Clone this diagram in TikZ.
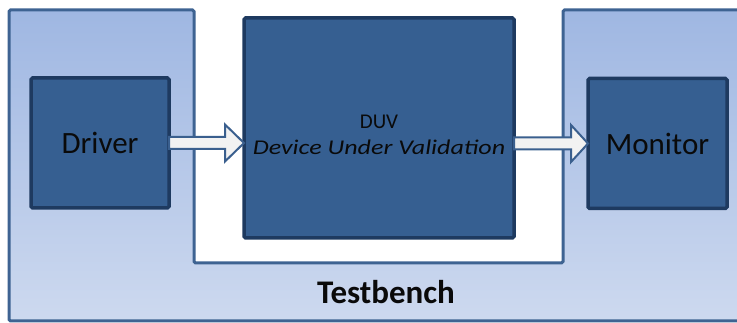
\documentclass[tikz,border=0pt]{standalone}
\usepackage{fontspec}
\setmainfont{Carlito}
\usetikzlibrary{calc}

\definecolor{benchtop}{HTML}{9FB7E2}
\definecolor{benchbot}{HTML}{CDD9EF}
\definecolor{benchline}{HTML}{3E6392}
\definecolor{boxfill}{HTML}{365F91}
\definecolor{boxline}{HTML}{1E3A60}
\definecolor{arrowfill}{HTML}{F2F2F2}
\definecolor{arrowline}{HTML}{3A5F8E}
\definecolor{ink}{HTML}{0A0A0A}

\tikzset{
  unitbox/.style={draw=boxline, line width=3.5pt, fill=boxfill,
    rounded corners=1.5pt, inner sep=0pt, outer sep=0pt, text=ink},
  flowarrow/.style={draw=arrowline, line width=2pt, fill=arrowfill,
    line join=miter},
  bench/.style={draw=benchline, line width=3pt, rounded corners=1.5pt,
    top color=benchtop, bottom color=benchbot},
  bigtext/.style={font=\fontsize{31}{37}\selectfont},
}

\begin{document}
\begin{tikzpicture}[x=1pt, y=-1pt]
  \useasboundingbox (0,0) rectangle (737,323);

  % testbench frame with the open slot for the device under validation
  \path[bench] (9,10) -- (194,10) -- (194,263) -- (563,263) -- (563,10)
    -- (745,10) -- (745,321) -- (9,321) -- cycle;
  \node[text=ink, font=\bfseries\fontsize{33}{39}\selectfont] (tb) at (386,292) {Testbench};

  % blocks
  \node[unitbox, bigtext, minimum width=138pt, minimum height=130pt] (drv) at (100,143) {Driver};
  \node[unitbox, minimum width=270pt, minimum height=220pt] (duv) at (379,128) {};
  \node[unitbox, bigtext, minimum width=139pt, minimum height=130pt] (mon) at (657.5,143.5) {Monitor};
  \node[text=ink, align=center, font=\fontsize{21}{26}\selectfont, inner sep=0pt]
    (duvtext) at ($(duv.center)+(0,7)$) {DUV\\\scalebox{1.24}[1]{\textit{Device Under Validation}}};

  % block arrows between the units
  \draw[flowarrow] let \p1=(drv.east), \p2=(duv.west) in
    (\x1,\y1+6pt) -- (\x2-19pt,\y1+6pt) -- (\x2-19pt,\y1+18.5pt) -- (\x2,\y1)
    -- (\x2-19pt,\y1-18.5pt) -- (\x2-19pt,\y1-6pt) -- (\x1,\y1-6pt) -- cycle;
  \draw[flowarrow] let \p1=(duv.east), \p2=(mon.west) in
    (\x1,\y2+6pt) -- (\x2-17pt,\y2+6pt) -- (\x2-17pt,\y2+18.5pt) -- (\x2,\y2)
    -- (\x2-17pt,\y2-18.5pt) -- (\x2-17pt,\y2-6pt) -- (\x1,\y2-6pt) -- cycle;
\end{tikzpicture}
\end{document}
